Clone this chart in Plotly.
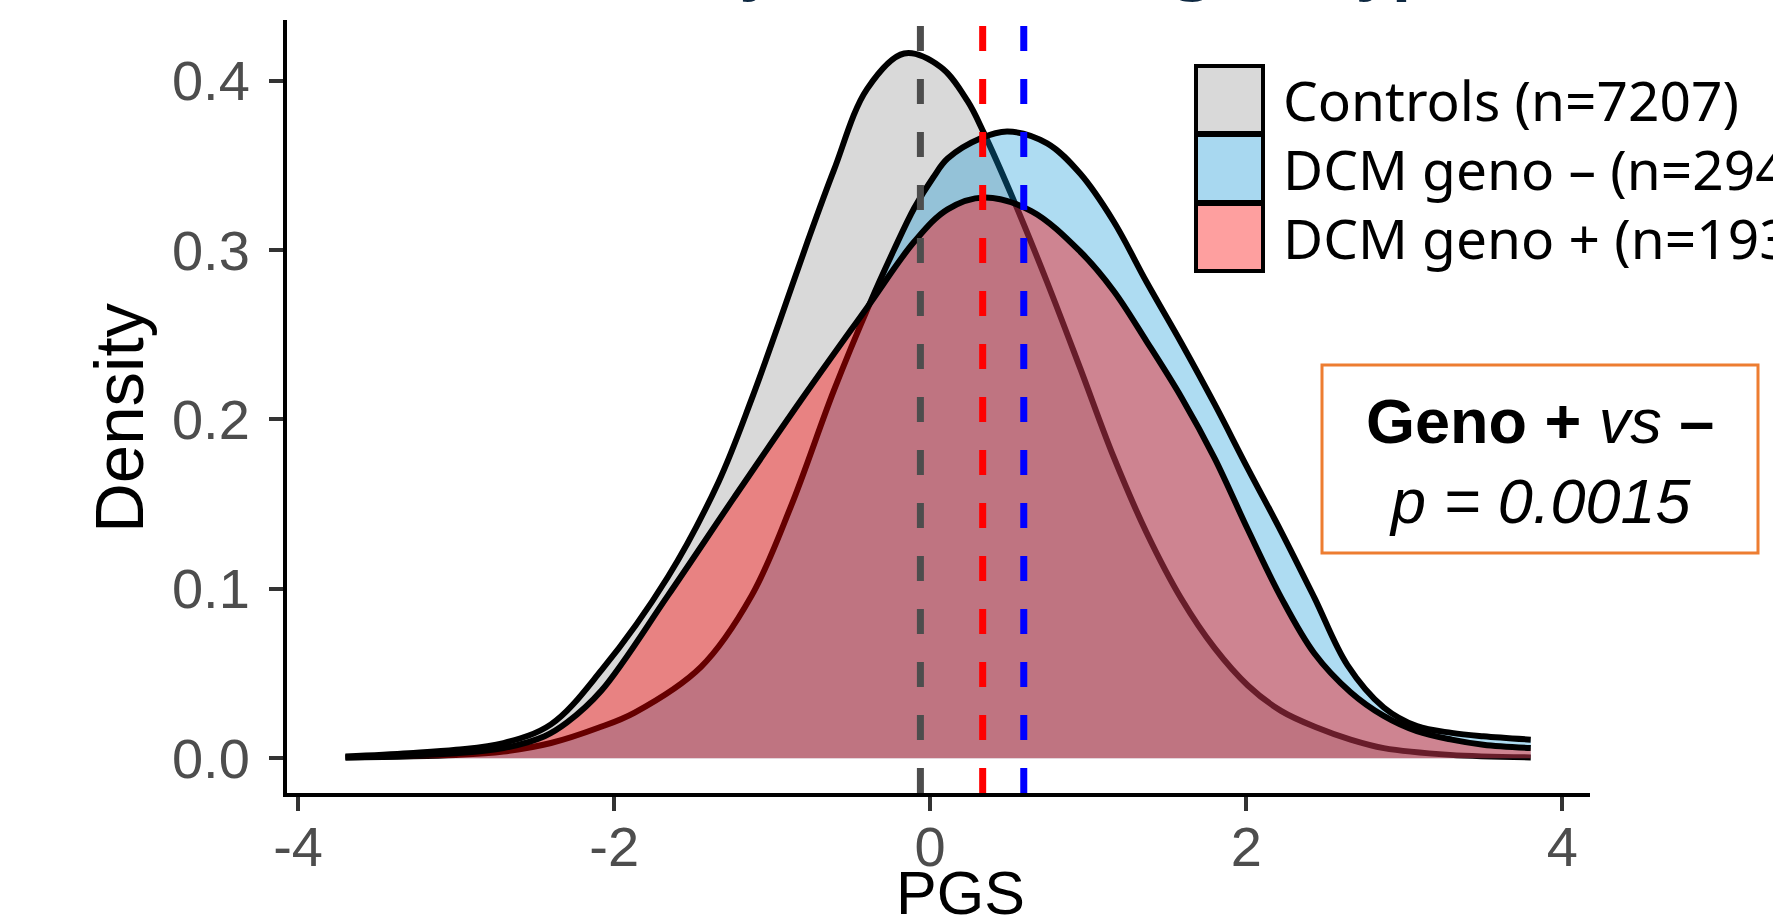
import plotly.graph_objects as go

# ---------------- data ----------------
groups = ["Controls (n=7207)", "DCM geno \u2013 (n=294)", "DCM geno + (n=193)"]

x_controls = [-3.7, -3.3, -3.0, -2.7, -2.4, -2.08, -1.66, -1.34, -1.13, -0.96, -0.776, -0.61,
              -0.40, -0.165, 0.067, 0.236, 0.34, 0.53, 0.74, 0.95, 1.16, 1.37, 1.59, 1.80,
              2.01, 2.22, 2.45, 2.66, 2.87, 3.29, 3.8]
y_controls = [0.001, 0.003, 0.005, 0.009, 0.020, 0.052, 0.107, 0.163, 0.212, 0.256, 0.305, 0.347,
              0.395, 0.416, 0.408, 0.388, 0.369, 0.329, 0.281, 0.230, 0.178, 0.133, 0.094, 0.065,
              0.043, 0.028, 0.018, 0.011, 0.006, 0.002, 0.0005]

x_geno_neg = [-3.7, -3.0, -2.7, -2.4, -2.1, -1.87, -1.45, -1.13, -0.88, -0.61, -0.38, -0.23,
              -0.10, 0.02, 0.11, 0.32, 0.49, 0.74, 0.95, 1.16, 1.37, 1.59, 1.80, 2.01, 2.22,
              2.43, 2.64, 2.87, 3.08, 3.3, 3.5, 3.8]
y_geno_neg = [0.0005, 0.002, 0.004, 0.009, 0.018, 0.027, 0.054, 0.096, 0.149, 0.217, 0.269, 0.300,
              0.325, 0.343, 0.354, 0.366, 0.370, 0.363, 0.345, 0.317, 0.281, 0.245, 0.209, 0.171,
              0.134, 0.095, 0.055, 0.030, 0.019, 0.015, 0.013, 0.011]

x_geno_pos = [-3.7, -3.0, -2.7, -2.44, -2.3, -2.08, -1.66, -1.24, -0.82, -0.40, -0.10, 0.11,
              0.34, 0.64, 0.95, 1.16, 1.37, 1.59, 1.80, 2.01, 2.22, 2.43, 2.66, 2.87, 3.08,
              3.3, 3.5, 3.8]
y_geno_pos = [0.0005, 0.003, 0.006, 0.013, 0.021, 0.040, 0.096, 0.154, 0.211, 0.266, 0.305, 0.324,
              0.331, 0.323, 0.299, 0.276, 0.246, 0.213, 0.177, 0.135, 0.095, 0.062, 0.039, 0.025,
              0.016, 0.011, 0.008, 0.006]

group_means = [-0.062, 0.332, 0.592]

x_ticks = [-4, -2, 0, 2, 4]
y_ticks = [0.0, 0.1, 0.2, 0.3, 0.4]

title_text = "PGS distribution by rare variant genotype"
stat_line1 = "<b>Geno + </b><i>vs</i><b> \u2013</b>"
stat_line2 = "<i>p = 0.0015</i>"

# ---------------- styling ----------------
fill_colors = ["rgba(152,152,152,0.37)", "rgba(10,150,215,0.33)", "rgba(255,0,0,0.40)"]
key_colors = ["#d9d9d9", "#a8d8f0", "#fe9f9f"]
mean_colors = ["#4d4d4d", "#ff0000", "#0000ff"]

W, H = 1773, 919
L, R, T, B = 287, 1590, 20, 793  # plot-area pixel edges


def px(x):
    return (x - L) / (R - L)


def py(y):
    return (B - y) / (B - T)


fig = go.Figure()
series = [(x_controls, y_controls), (x_geno_neg, y_geno_neg), (x_geno_pos, y_geno_pos)]
for (xs, ys), name, fc in zip(series, groups, fill_colors):
    fig.add_trace(go.Scatter(
        x=xs, y=ys, name=name, mode="lines", fill="tozeroy", fillcolor=fc,
        line=dict(color="black", width=6, shape="spline", smoothing=1.0),
        showlegend=False, hoverinfo="skip"))

shapes = []
for m, c in zip(group_means, mean_colors):
    shapes.append(dict(type="line", xref="x", yref="paper", x0=m, x1=m, y0=0, y1=1,
                       line=dict(color=c, width=7, dash="25px,28px"), layer="above"))

# legend keys (manual)
key_rows = [(66, 133), (135, 202), (204, 271)]
for (y0, y1), kc in zip(key_rows, key_colors):
    shapes.append(dict(type="rect", xref="paper", yref="paper",
                       x0=px(1196), x1=px(1263), y0=py(y1), y1=py(y0),
                       fillcolor=kc, line=dict(color="black", width=4), layer="above"))

# stats box
shapes.append(dict(type="rect", xref="paper", yref="paper",
                   x0=px(1322), x1=px(1758), y0=py(553), y1=py(365),
                   fillcolor="white", line=dict(color="#ED7D31", width=3), layer="above"))

annotations = []
for (y0, y1), g in zip(key_rows, groups):
    annotations.append(dict(xref="paper", yref="paper", x=px(1281), y=py((y0 + y1) / 2),
                            xanchor="left", yanchor="middle", text=g, showarrow=False,
                            font=dict(family="Noto Sans", size=55, color="black")))

annotations.append(dict(xref="paper", yref="paper", x=px(1540), y=py(421), text=stat_line1,
                        showarrow=False, xanchor="center", yanchor="middle",
                        font=dict(family="Liberation Sans, Arial", size=63, color="black")))
annotations.append(dict(xref="paper", yref="paper", x=px(1540), y=py(501), text=stat_line2,
                        showarrow=False, xanchor="center", yanchor="middle",
                        font=dict(family="Liberation Sans, Arial", size=63, color="black")))

# axis titles
annotations.append(dict(xref="paper", yref="paper", x=px(960), y=py(893), text="PGS",
                        showarrow=False, xanchor="center", yanchor="middle",
                        font=dict(family="Liberation Sans, Arial", size=61, color="black")))
annotations.append(dict(xref="paper", yref="paper", x=px(119), y=py(418), text="Density",
                        showarrow=False, xanchor="center", yanchor="middle", textangle=-90,
                        font=dict(family="Liberation Sans, Arial", size=69, color="black")))

# cropped title (only descenders visible in reference)
annotations.append(dict(xref="paper", yref="paper", x=px(185), y=py(7), text="<b>" + title_text + "</b>",
                        showarrow=False, xanchor="left", yanchor="bottom",
                        font=dict(family="Noto Sans", size=62, color="#0E2841")))

fig.update_layout(
    width=W, height=H,
    margin=dict(l=L, r=W - R, t=T, b=H - B, autoexpand=False),
    paper_bgcolor="white", plot_bgcolor="white",
    shapes=shapes, annotations=annotations, showlegend=False,
    xaxis=dict(range=[-4.07, 4.175], tickvals=x_ticks, ticktext=[str(v) for v in x_ticks],
               showgrid=False, zeroline=False, showline=True, linecolor="black", linewidth=4,
               ticks="outside", ticklen=14, tickwidth=4, tickcolor="#333333",
               tickfont=dict(family="Liberation Sans, Arial", size=56, color="#4d4d4d"),
               ticklabelstandoff=-12, automargin=False),
    yaxis=dict(range=[-0.0205, 0.4358], tickvals=y_ticks, tickformat=".1f",
               showgrid=False, zeroline=False, showline=True, linecolor="black", linewidth=4,
               ticks="outside", ticklen=14, tickwidth=4, tickcolor="#333333",
               tickfont=dict(family="Liberation Sans, Arial", size=56, color="#4d4d4d"),
               ticklabelstandoff=8, automargin=False),
)

fig.write_html("out.html", config={"displayModeBar": False},
               post_script="document.body.style.margin='0px';document.body.style.overflow='hidden';")
